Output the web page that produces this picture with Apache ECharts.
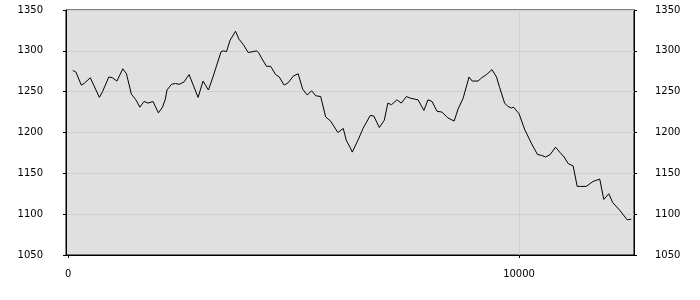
<!DOCTYPE html>
<html>
<head>
<meta charset="utf-8">
<script src="https://cdn.jsdelivr.net/npm/echarts@6/dist/echarts.min.js"></script>
<style>html,body{margin:0;padding:0;background:#fff}#c{width:700px;height:300px}</style>
</head>
<body>
<div id="c"></div>
<script>
var xValues = [100,170,290,350,490,690,760,900,980,1080,1210,1290,1400,1500,1590,1680,1770,1880,2000,2090,2150,2190,2290,2380,2460,2570,2680,2880,2990,3110,3210,3390,3440,3510,3590,3710,3790,3880,3990,4100,4180,4230,4300,4400,4490,4600,4680,4790,4880,4990,5100,5200,5300,5400,5490,5600,5710,5820,5980,6100,6170,6250,6300,6430,6540,6700,6780,6900,7010,7090,7170,7290,7390,7500,7590,7760,7890,7980,8070,8180,8290,8420,8560,8650,8760,8890,8960,9090,9170,9280,9400,9500,9570,9680,9750,9830,9880,10000,10090,10130,10220,10270,10410,10500,10590,10690,10810,10900,11000,11090,11200,11290,11370,11490,11640,11790,11880,11990,12080,12230,12400,12490];
var yValues = [1276,1274,1258,1260,1267,1243,1250,1268,1267,1263,1278,1272,1247,1240,1231,1238,1236,1238,1224,1231,1240,1252,1259,1260,1259,1262,1271,1243,1263,1252,1268,1299,1300,1299,1313,1324,1314,1308,1298,1299,1300,1297,1290,1281,1281,1271,1268,1258,1261,1269,1272,1253,1246,1251,1245,1244,1219,1214,1200,1205,1190,1182,1176,1191,1205,1221,1220,1206,1215,1236,1234,1240,1236,1244,1242,1240,1227,1240,1238,1226,1225,1218,1214,1229,1242,1268,1263,1263,1267,1271,1277,1268,1255,1236,1232,1230,1231,1223,1209,1203,1193,1187,1173,1172,1170,1173,1182,1176,1170,1162,1159,1134,1134,1134,1140,1143,1118,1125,1114,1105,1093,1094];
var xTickLabels = [0, 10000];
var yTickLabels = [1050, 1100, 1150, 1200, 1250, 1300, 1350];

var data = xValues.map(function (x, i) { return [x, yValues[i]]; });
var font = 'DejaVu Sans';
var plain = function (v) { return String(v); };
var chart = echarts.init(document.getElementById('c'), null, {renderer: 'canvas'});
chart.setOption({
  animation: false,
  backgroundColor: '#ffffff',
  grid: {left: 66, right: 66, top: 10, bottom: 45, show: true, backgroundColor: '#e0e0e0', borderColor: '#000', borderWidth: 1},
  xAxis: [{
    type: 'value', min: -50, max: 12550,
    axisLine: {show: true, onZero: false, lineStyle: {color: '#000', width: 1}},
    axisTick: {show: true, length: 3, customValues: xTickLabels, lineStyle: {color: '#000'}},
    axisLabel: {show: true, customValues: xTickLabels, formatter: plain, margin: 14, color: '#000', fontFamily: font, fontSize: 10},
    splitLine: {show: false}
  }, {
    type: 'value', min: -50, max: 12550, interval: 10050, position: 'bottom',
    axisLine: {show: false}, axisTick: {show: false}, axisLabel: {show: false},
    splitLine: {show: true, lineStyle: {color: '#d0d0d0', width: 1}}
  }],
  yAxis: [{
    type: 'value', min: 1050, max: 1350, interval: 50, position: 'left',
    axisLine: {show: true, onZero: false, lineStyle: {color: '#000'}},
    axisTick: {show: true, length: 3, lineStyle: {color: '#000'}},
    axisLabel: {margin: 23, formatter: plain, color: '#000', fontFamily: font, fontSize: 10},
    splitLine: {show: true, lineStyle: {color: '#d0d0d0', width: 1}}
  }, {
    type: 'value', min: 1050, max: 1350, interval: 50, position: 'right',
    axisLine: {show: true, onZero: false, lineStyle: {color: '#000'}},
    axisTick: {show: true, length: 3, lineStyle: {color: '#000'}},
    axisLabel: {margin: 21, formatter: plain, color: '#000', fontFamily: font, fontSize: 10},
    splitLine: {show: false}
  }],
  series: [{
    type: 'line', data: data, xAxisIndex: 0, yAxisIndex: 0,
    showSymbol: false, symbol: 'none',
    lineStyle: {color: '#000', width: 1}
  }]
});
</script>
</body>
</html>
